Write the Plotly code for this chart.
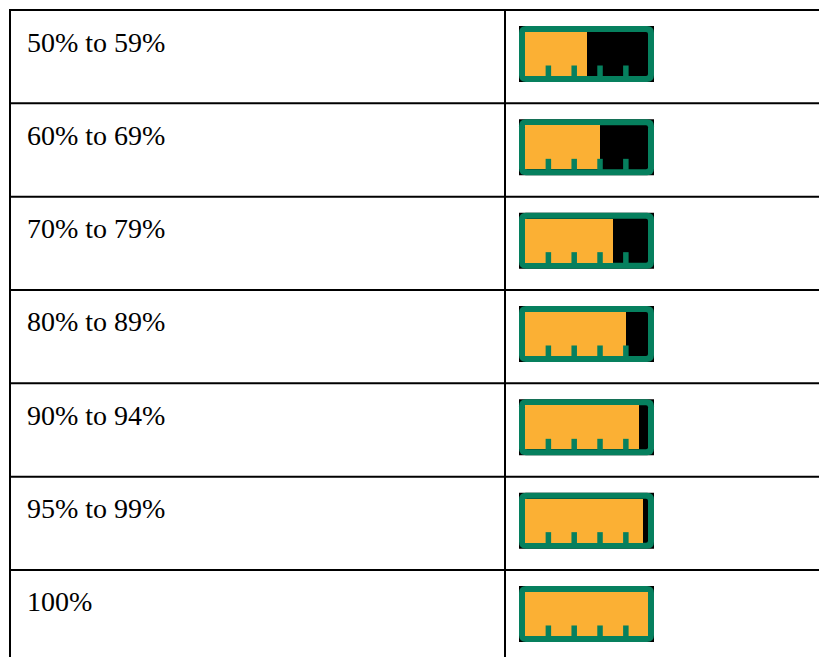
import plotly.graph_objects as go

# ---- data ----
labels = ["50% to 59%", "60% to 69%", "70% to 79%", "80% to 89%",
          "90% to 94%", "95% to 99%", "100%"]
fill_pct = [50, 61, 71.5, 82, 92.5, 96, 100]

# ---- style / layout constants (pixels) ----
W, H = 819, 657
TABLE_LEFT, TABLE_TOP = 10, 10
COL_DIV = 505
ROW_H = 93.33
GREEN = "#06805E"
ORANGE = "#FBB034"
ICON_X0, ICON_X1 = 519, 654
ICON_H = 56
ICON_OFF = 16
BORDER = 6
TICK_FR = [0.19, 0.40, 0.61, 0.82]
TICK_W, TICK_H = 5.5, 10.5

row_tops = [TABLE_TOP + i * ROW_H for i in range(len(labels))]
inner_x0, inner_x1 = ICON_X0 + BORDER, ICON_X1 - BORDER
inner_w = inner_x1 - inner_x0

shapes = []


def rounded_path(x0, y0, x1, y1, r):
    return (f"M {x0+r},{y0} L {x1-r},{y0} Q {x1},{y0} {x1},{y0+r} "
            f"L {x1},{y1-r} Q {x1},{y1} {x1-r},{y1} L {x0+r},{y1} "
            f"Q {x0},{y1} {x0},{y1-r} L {x0},{y0+r} Q {x0},{y0} {x0+r},{y0} Z")


for top in row_tops:
    y0 = top + ICON_OFF
    y1 = y0 + ICON_H
    shapes.append(dict(type="rect", x0=ICON_X0, x1=ICON_X1, y0=y0, y1=y1,
                       fillcolor="black", line=dict(width=0), layer="below"))
    shapes.append(dict(type="path", path=rounded_path(ICON_X0, y0, ICON_X1, y1, 7),
                       fillcolor=GREEN, line=dict(width=0), layer="below"))
    shapes.append(dict(type="path",
                       path=rounded_path(inner_x0, y0 + BORDER, inner_x1, y1 - BORDER, 2),
                       fillcolor="black", line=dict(width=0), layer="below"))
    for f in TICK_FR:
        cx = inner_x0 + f * inner_w
        shapes.append(dict(type="rect", x0=cx - TICK_W / 2, x1=cx + TICK_W / 2,
                           y0=y1 - BORDER - TICK_H, y1=y1 - BORDER + 0.5,
                           fillcolor=GREEN, line=dict(width=0), layer="above"))

# table lines
LINE = dict(color="black", width=2)
for i in range(len(labels)):
    y = TABLE_TOP + i * ROW_H
    shapes.append(dict(type="line", x0=TABLE_LEFT, x1=W + 5, y0=y, y1=y, line=LINE, layer="above"))
shapes.append(dict(type="line", x0=TABLE_LEFT, x1=TABLE_LEFT, y0=TABLE_TOP - 1, y1=H + 5, line=LINE, layer="above"))
shapes.append(dict(type="line", x0=COL_DIV, x1=COL_DIV, y0=TABLE_TOP - 1, y1=H + 5, line=LINE, layer="above"))

fig = go.Figure()
fig.add_trace(go.Bar(
    orientation="h",
    y=[t + ICON_OFF + ICON_H / 2 for t in row_tops],
    x=[p / 100 * inner_w for p in fill_pct],
    base=inner_x0,
    width=ICON_H - 2 * BORDER,
    marker=dict(color=ORANGE, line=dict(width=0)),
    hoverinfo="skip",
))

annotations = [dict(x=25, y=t + 32, xref="x", yref="y", text=lab, showarrow=False,
                    xanchor="left", yanchor="middle",
                    font=dict(family="Liberation Serif", size=28, color="black"))
               for t, lab in zip(row_tops, labels)]

fig.update_layout(
    width=W, height=H,
    margin=dict(l=0, r=0, t=0, b=0),
    paper_bgcolor="white", plot_bgcolor="white",
    xaxis=dict(range=[0, W], visible=False, fixedrange=True),
    yaxis=dict(range=[H, 0], visible=False, fixedrange=True),
    shapes=shapes, annotations=annotations,
    showlegend=False, bargap=0,
)
fig.write_html("out.html", config={"displayModeBar": False},
               post_script="document.body.style.margin='0';document.body.style.overflow='hidden';")
